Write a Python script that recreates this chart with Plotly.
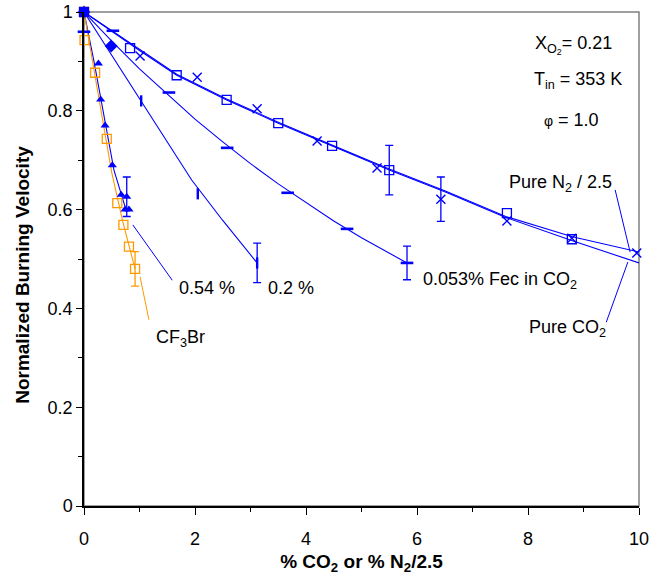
import plotly.graph_objects as go

BLUE = '#0000ff'
ORANGE = '#ff9900'
FONT = 'Arial, Liberation Sans, sans-serif'

# Pure CO2 (open squares) + fitted curve
co2_x = [0, 0.83, 1.67, 2.57, 3.50, 4.47, 5.50, 7.62, 8.79]
co2_y = [1, 0.927, 0.872, 0.822, 0.775, 0.729, 0.680, 0.593, 0.540]
co2_err = [None, None, None, None, None, None, 0.05, None, None]
co2_fit_x = [0, 1, 1.67, 2.57, 3.5, 4.5, 5.5, 6.5, 7.6, 8.8, 10]
co2_fit_y = [1, 0.922, 0.872, 0.822, 0.775, 0.727, 0.680, 0.636, 0.584, 0.537, 0.492]

# Pure N2 / 2.5 (crosses) + fitted curve
n2_x = [0, 1.01, 2.04, 3.12, 4.20, 5.28, 6.43, 7.62, 8.79, 9.96]
n2_y = [1, 0.911, 0.868, 0.804, 0.739, 0.684, 0.621, 0.577, 0.542, 0.512]
n2_err = [None, None, None, None, None, None, 0.045, None, None, None]
n2_fit_x = [0, 1, 1.67, 2.57, 3.5, 4.5, 5.5, 6.5, 7.6, 8.8, 10]
n2_fit_y = [1, 0.924, 0.874, 0.824, 0.777, 0.729, 0.682, 0.638, 0.586, 0.545, 0.514]

# 0.053% Fec in CO2 (horizontal dashes)
fec_x = [0, 0.52, 1.53, 2.58, 3.67, 4.74, 5.82]
fec_y = [0.96, 0.962, 0.837, 0.725, 0.634, 0.561, 0.492]
fec_err = [None, None, None, None, None, None, 0.034]
fec_fit_x = [0, 0.5, 1, 1.5, 2, 2.5, 3, 3.5, 4, 4.5, 5, 5.5, 5.82]
fec_fit_y = [1, 0.941, 0.885, 0.833, 0.783, 0.737, 0.693, 0.652, 0.614, 0.577, 0.543, 0.511, 0.492]

# extra filled diamond
dia_x = [0, 0.49]
dia_y = [1, 0.931]

# 0.2 % (vertical dashes)
p2_x = [1.03, 2.05, 3.12]
p2_y = [0.820, 0.632, 0.492]
p2_err = [None, None, 0.04]
p2_fit_x = [0, 0.5, 1, 1.5, 1.94, 2.5, 3.12]
p2_fit_y = [1, 0.912, 0.824, 0.738, 0.660, 0.578, 0.492]

# 0.54 % (filled triangles)
p54_x = [0, 0.26, 0.30, 0.38, 0.51, 0.67, 0.77, 0.74, 0.81]
p54_y = [1, 0.896, 0.823, 0.770, 0.690, 0.630, 0.626, 0.600, 0.600]
p54_err = [None, None, None, None, None, None, 0.04, None, None]
p54_fit_x = [0, 0.18, 0.54, 0.77]
p54_fit_y = [1, 0.90, 0.68, 0.595]

# CF3Br (orange open squares)
cf_x = [0, 0.01, 0.20, 0.41, 0.60, 0.71, 0.81, 0.92]
cf_y = [1, 0.943, 0.877, 0.743, 0.613, 0.569, 0.525, 0.480]
cf_err = [None, None, None, None, None, None, None, 0.035]
cf_fit_x = [0, 0.15, 0.5, 0.7, 0.92]
cf_fit_y = [1, 0.903, 0.675, 0.575, 0.48]

# start point shared by all series (solid block in the corner)
start_x = [0]
start_y = [1]

fig = go.Figure()


def fit(x, y, color):
    fig.add_trace(go.Scatter(x=x, y=y, mode='lines', line=dict(color=color, width=1.1),
                             hoverinfo='skip', cliponaxis=False))


def pts(x, y, err, color, symbol, size, lw):
    fig.add_trace(go.Scatter(
        x=x, y=y, mode='markers', cliponaxis=False,
        marker=dict(symbol=symbol, size=size, color=color,
                    line=dict(color=color, width=lw))))
    if err:
        ex = [a for a, e in zip(x, err) if e is not None]
        ey = [b for b, e in zip(y, err) if e is not None]
        ee = [e for e in err if e is not None]
        fig.add_trace(go.Scatter(
            x=ex, y=ey, mode='markers', marker=dict(size=1, opacity=0),
            error_y=dict(type='data', array=ee, color=color, thickness=1.3, width=4),
            hoverinfo='skip', cliponaxis=False))


fit(co2_fit_x, co2_fit_y, BLUE)
fit(n2_fit_x, n2_fit_y, BLUE)
fit(fec_fit_x, fec_fit_y, BLUE)
fit(p2_fit_x, p2_fit_y, BLUE)
fit(p54_fit_x, p54_fit_y, BLUE)
fit(cf_fit_x, cf_fit_y, ORANGE)

pts(co2_x, co2_y, co2_err, BLUE, 'square-open', 9, 1.3)
pts(n2_x, n2_y, n2_err, BLUE, 'x-thin-open', 9, 1.4)
pts(fec_x, fec_y, fec_err, BLUE, 'line-ew', 9, 2.6)
pts(dia_x, dia_y, None, BLUE, 'diamond', 10, 0)
pts(p2_x, p2_y, p2_err, BLUE, 'line-ns', 8, 2.4)
pts(p54_x, p54_y, p54_err, BLUE, 'triangle-up', 8, 0)
pts(cf_x, cf_y, cf_err, ORANGE, 'square-open', 9, 1.3)
pts(start_x, start_y, None, BLUE, 'square', 10, 0)

# leader lines from labels to curves
leaders = [
    (0.88, 0.569, 1.59, 0.457, BLUE),
    (1.01, 0.464, 1.17, 0.377, ORANGE),
    (9.57, 0.640, 9.84, 0.514, BLUE),
    (9.41, 0.372, 9.80, 0.494, BLUE),
]
shapes = [dict(type='line', xref='x', yref='y', x0=a, y0=b, x1=c, y1=d,
               line=dict(color=col, width=1)) for a, b, c, d, col in leaders]
shapes.append(dict(type='rect', xref='x domain', yref='y domain', x0=0, x1=1, y0=0, y1=1,
                   line=dict(color='#808080', width=1.5), layer='below'))

labels = [
    (1.68, 0.441, '0.54 %'),
    (3.28, 0.441, '0.2 %'),
    (6.08, 0.457, '0.053% Fec in CO<sub>2</sub>'),
    (1.26, 0.340, 'CF<sub>3</sub>Br'),
    (7.63, 0.652, 'Pure N<sub>2</sub> / 2.5'),
    (7.98, 0.360, 'Pure CO<sub>2</sub>'),
    (8.09, 0.933, 'X<sub>O<sub>2</sub></sub>= 0.21'),
    (8.07, 0.862, 'T<sub>in</sub> = 353 K'),
    (8.25, 0.781, '<span style="font-size:14px">φ</span> = 1.0'),
]
annotations = [dict(x=x, y=y, xref='x', yref='y', text=t, showarrow=False,
                    xanchor='left', yanchor='middle',
                    font=dict(family=FONT, size=18, color='black')) for x, y, t in labels]

# y-axis title sits a little below the middle of the axis
annotations.append(dict(x=0, xref='paper', xshift=-61, y=0.468, yref='y',
                        text='<b>Normalized Burning Velocity</b>', textangle=-90,
                        showarrow=False, xanchor='center', yanchor='middle',
                        font=dict(family=FONT, size=19, color='black')))

fig.update_layout(
    width=663, height=578,
    margin=dict(l=84, r=24, t=12, b=72),
    paper_bgcolor='white', plot_bgcolor='white',
    showlegend=False,
    font=dict(family=FONT, size=18, color='black'),
    shapes=shapes, annotations=annotations,
    xaxis=dict(range=[0, 10], dtick=2, showgrid=False, zeroline=False, automargin=False,
               showline=True, linecolor='black', linewidth=1.5,
               ticks='outside', ticklen=7, tickcolor='black', tickwidth=1,
               ticklabelstandoff=9,
               minor=dict(dtick=1, ticks='outside', ticklen=4, tickcolor='black'),
               title=dict(text='<b>% CO<sub>2</sub> or % N<sub>2</sub>/2.5</b>',
                          font=dict(size=19), standoff=6)),
    yaxis=dict(range=[0, 1], dtick=0.2, showgrid=False, zeroline=False, automargin=False,
               showline=True, linecolor='black', linewidth=1.5,
               ticks='outside', ticklen=6, tickcolor='black', tickwidth=1,
               ticklabeloverflow='allow',
               minor=dict(dtick=0.1, ticks='outside', ticklen=4, tickcolor='black')),
)

# drop the page's default body margin so the figure fills the window exactly
fig.write_html("out.html", config={'displayModeBar': False},
               post_script="document.body.style.margin='0';")
